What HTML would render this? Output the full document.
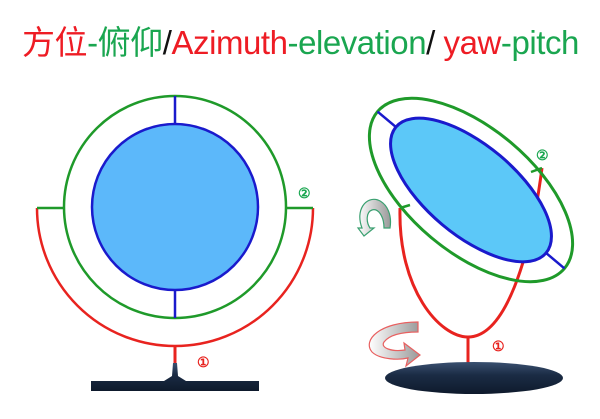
<!DOCTYPE html>
<html><head><meta charset="utf-8"><style>
body{margin:0;background:#fff;width:600px;height:419px;overflow:hidden}
.t{position:absolute;left:22px;top:16px;font:33px "Liberation Sans","Noto Sans CJK SC",sans-serif;white-space:nowrap;letter-spacing:-0.45px}
.r{color:#ee1c24}.g{color:#1aa650}.k{color:#111}
</style></head><body>
<div class="t"><span class="r">方位</span><span class="g">-俯仰</span><span class="k">/</span><span class="r">Azimuth</span><span class="g">-elevation</span><span class="k">/</span><span class="r"> yaw</span><span class="g">-pitch</span></div>
<svg width="600" height="419" style="position:absolute;left:0;top:0">
<defs><linearGradient id="nv" x1="0" y1="0" x2="0" y2="1"><stop offset="0" stop-color="#3a5070"/><stop offset=".4" stop-color="#1b2c45"/><stop offset="1" stop-color="#0e1a2c"/></linearGradient>
<linearGradient id="ar" x1="0" y1="0" x2="1" y2="0"><stop offset="0" stop-color="#fff"/><stop offset="1" stop-color="#999"/></linearGradient></defs>
<!-- left -->
<path d="M37 208 A138 138 0 0 0 313 208" fill="none" stroke="#e8231f" stroke-width="2.5"/>
<line x1="37" y1="208" x2="64" y2="208" stroke="#1f9a2a" stroke-width="2.5"/>
<line x1="286" y1="208" x2="313" y2="208" stroke="#1f9a2a" stroke-width="2.5"/>
<circle cx="175" cy="207" r="111" fill="none" stroke="#1f9a2a" stroke-width="2.5"/>
<line x1="175" y1="96" x2="175" y2="318" stroke="#1a1acc" stroke-width="2.5"/>
<circle cx="175" cy="207" r="83" fill="#5cb8fa" stroke="#1a1acc" stroke-width="2.5"/>
<line x1="175" y1="346" x2="175" y2="363" stroke="#e8231f" stroke-width="3"/>
<path d="M173 363 L177 363 L178 376 L186 381 L259 381 L259 391 L91 391 L91 381 L164 381 L172 376Z" fill="url(#nv)"/>
<text x="197" y="367" font-family="Liberation Sans" font-size="14" font-weight="bold" fill="#e8231f">①</text>
<text x="298" y="198" font-family="Liberation Sans" font-size="14" font-weight="bold" fill="#1aa650">②</text>
<!-- right -->
<path d="M400 208 C398 290 440 337 468 337 C505 337 530 260 542 168" fill="none" stroke="#e8231f" stroke-width="3"/>
<line x1="400" y1="208" x2="410" y2="205" stroke="#1f9a2a" stroke-width="2.5"/>
<line x1="531" y1="172" x2="542" y2="168" stroke="#1f9a2a" stroke-width="2.5"/>
<g transform="rotate(40 471 190)">
<ellipse cx="471" cy="190" rx="122" ry="62" fill="none" stroke="#1f9a2a" stroke-width="3"/>
<line x1="349" y1="190" x2="593" y2="190" stroke="#1a1acc" stroke-width="2.5"/>
<ellipse cx="471" cy="190" rx="98" ry="45" fill="#5cc8f8" stroke="#1a1acc" stroke-width="3"/>
</g>
<line x1="468" y1="337" x2="468" y2="364" stroke="#e8231f" stroke-width="3"/>
<ellipse cx="474" cy="378" rx="89" ry="16" fill="url(#nv)"/>
<text x="492" y="351" font-family="Liberation Sans" font-size="14" font-weight="bold" fill="#e8231f">①</text>
<text x="536" y="160" font-family="Liberation Sans" font-size="14" font-weight="bold" fill="#1aa650">②</text>
<path d="M418 322 C380 322 362 340 372 352 C380 360 400 360 408 358 L406 366 L420 355 L404 343 L405 350 C392 352 380 348 384 342 C390 334 405 332 418 332Z" fill="url(#ar)" stroke="#e86060" stroke-width="1.2"/>
<path d="M362 228 C355 210 366 196 378 200 C388 204 392 216 390 228 L384 228 C384 216 378 208 372 210 C366 212 366 222 370 228 L374 228 L364 236 L358 228Z" fill="url(#ar)" stroke="#3aa070" stroke-width="1.2"/>
</svg>
</body></html>
